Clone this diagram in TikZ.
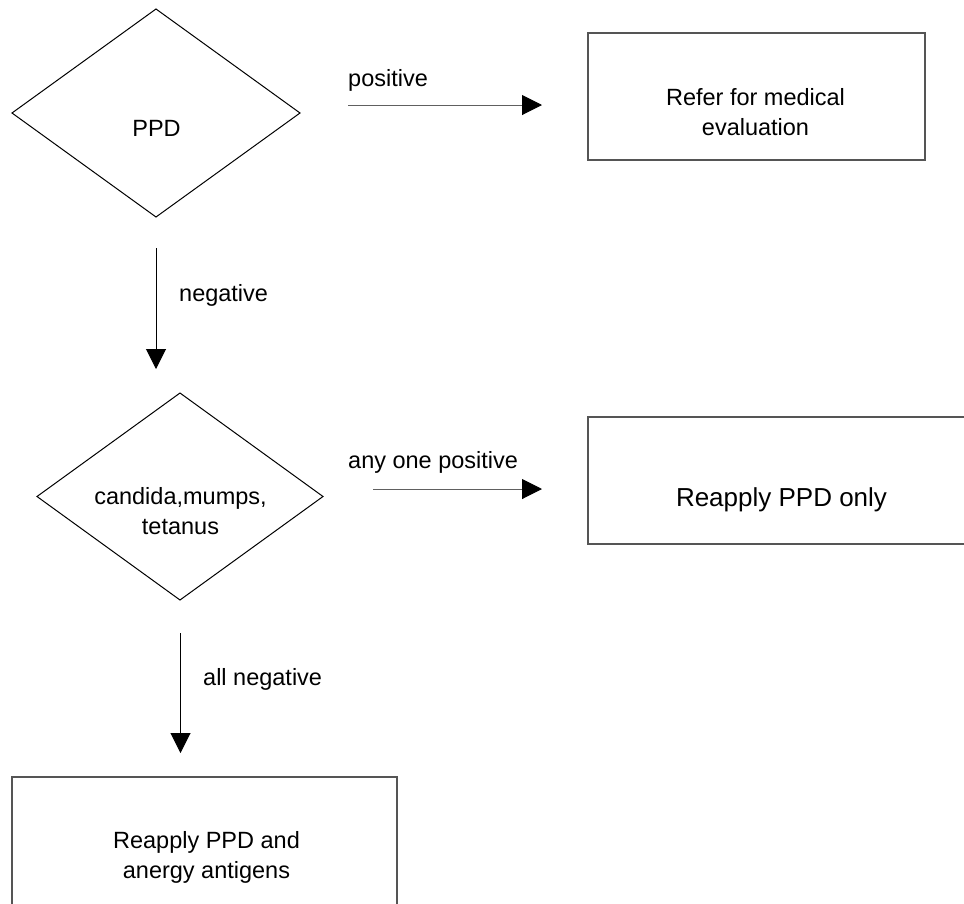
\documentclass[tikz,border=0pt]{standalone}
\usepackage{fontspec}
\setmainfont{Liberation Sans}
\usetikzlibrary{shapes.geometric,arrows.meta}
\definecolor{boxgray}{HTML}{555555}
\definecolor{linegray}{HTML}{606060}
\begin{document}
\begin{tikzpicture}[x=1pt,y=-1pt,
  decision/.style={diamond, draw=black, line width=1pt, minimum width=288pt, minimum height=208pt, inner sep=0pt, outer sep=0pt},
  procbox/.style={draw=boxgray, line width=1.3pt, inner sep=0pt, outer sep=0pt, minimum height=127pt},
  txt/.style={font=\fontsize{23.5pt}{30pt}\selectfont, inner sep=0pt, align=center},
  bigtxt/.style={font=\fontsize{26pt}{31pt}\selectfont, inner sep=0pt, align=center},
  flow/.style={-{Triangle[length=20pt,width=20pt,color=black]}, line width=1pt, draw=black},
  hflow/.style={flow, draw=linegray},
]
\useasboundingbox (0,0) rectangle (964,903);

% shapes
\node[decision] (d1) at (156,113) {};
\node[decision, minimum width=286pt, minimum height=207pt] (d2) at (180,496.5) {};
\node[procbox, minimum width=337pt] (b1) at (756.5,96.5) {};
\node[procbox, minimum width=387pt] (b2) at (781.5,480.5) {};
\node[procbox, minimum width=385pt, minimum height=140pt] (b3) at (204.5,847) {};

% texts (base = baseline of last line)
\node[txt, anchor=base] (t1) at (156.5,136) {PPD};
\node[txt, anchor=base] (t2) at (755.5,135) {Refer for medical\\evaluation};
\node[txt, anchor=base] (t3) at (180.5,534) {candida,mumps,\\tetanus};
\node[bigtxt, anchor=base] (t4) at (781.5,506) {Reapply PPD only};
\node[txt, anchor=base] (t5) at (206.5,878) {Reapply PPD and\\anergy antigens};

% arrow ends
\coordinate (a1s) at (348,105);
\coordinate (a1e) at (542,105);
\coordinate (a2s) at (156,248);
\coordinate (a2e) at (156,369);
\coordinate (a3s) at (373,489);
\coordinate (a3e) at (542,489);
\coordinate (a4s) at (180.5,633);
\coordinate (a4e) at (180.5,753);

\draw[hflow] (a1s) -- (a1e);
\draw[flow] (a2s) -- (a2e);
\draw[hflow] (a3s) -- (a3e);
\draw[flow] (a4s) -- (a4e);

% labels
\node[txt, anchor=base west] (l1) at (348,86) {positive};
\node[txt, anchor=base west] (l2) at (179,301) {negative};
\node[txt, anchor=base west] (l3) at (348,468) {any one positive};
\node[txt, anchor=base west] (l4) at (203,685) {all negative};
\end{tikzpicture}
\end{document}
